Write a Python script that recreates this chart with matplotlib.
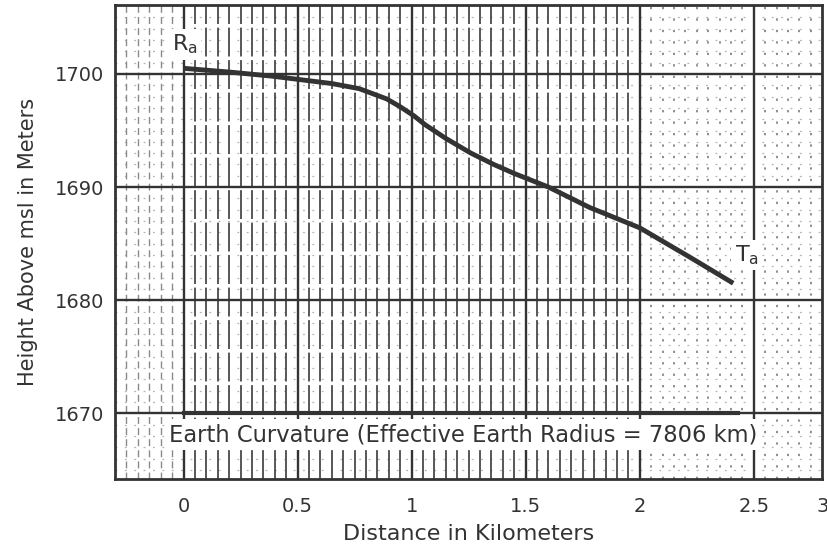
import matplotlib
matplotlib.use('Agg')
import matplotlib.pyplot as plt
import numpy as np

plt.rcParams['font.family'] = 'DejaVu Sans'
plt.rcParams['font.size'] = 14

# terrain profile between the two antennas
dist_km = [0.0, 0.21, 0.39, 0.51, 0.65, 0.77, 0.89, 0.95, 1.01, 1.06, 1.15,
           1.26, 1.36, 1.45, 1.60, 1.78, 2.00, 2.22, 2.41]
height_m = [1700.5, 1700.15, 1699.8, 1699.5, 1699.15, 1698.7, 1697.8, 1697.1,
            1696.3, 1695.5, 1694.3, 1693.0, 1692.0, 1691.2, 1690.0, 1688.2,
            1686.4, 1683.8, 1681.5]

# earth curvature reference line
curv_x = [0.0, 2.43]
curv_y = [1670, 1670]
curv_label = 'Earth Curvature (Effective Earth Radius = 7806 km)'

xticks = [0, 0.5, 1, 1.5, 2, 2.5, 2.8]
xtick_labels = ['0', '0.5', '1', '1.5', '2', '2.5', '3']
yticks = [1670, 1680, 1690, 1700]

ink = '#333333'

fig = plt.figure(figsize=(8.28, 5.48), dpi=100)
ax = fig.add_axes([0.139, 0.126, 0.854, 0.865])
ax.set_xlim(-0.3, 2.8)
ax.set_ylim(1664.2, 1706.1)

# fine grid: 0.05 km verticals, 1 m horizontals
for h in np.arange(1665, 1706, 1):
    if h % 10:
        ax.axhline(h, color='#b4b4b4', lw=0.9, ls=(0, (1.5, 6)), zorder=1)
for x in np.arange(-0.25, 2.8, 0.05):
    x = round(x, 2)
    if abs(x / 0.5 - round(x / 0.5)) < 1e-6:
        continue
    if 0 < x < 2.0:
        ax.axvline(x, color='#4a4a4a', lw=1.3, ls=(0, (16, 2)), zorder=1)
    elif x < 0:
        ax.axvline(x, color='#8a8a8a', lw=1.0, ls=(0, (5, 3)), zorder=1)
    else:
        ax.axvline(x, color='#707070', lw=1.1, ls=(0, (1.5, 6)), zorder=1)

# major grid
for x in [0, 0.5, 1, 1.5, 2, 2.5]:
    ax.axvline(x, color=ink, lw=1.7, zorder=2)
for h in yticks:
    ax.axhline(h, color=ink, lw=1.7, zorder=2)

ax.plot(dist_km, height_m, color=ink, lw=3.5, solid_capstyle='butt',
        solid_joinstyle='round', zorder=4)
ax.plot(curv_x, curv_y, color=ink, lw=3, zorder=4)

ax.text(1.226, 1668.1, curv_label, ha='center', va='center', fontsize=16.3,
        color=ink, zorder=5,
        bbox=dict(facecolor='white', edgecolor='none', pad=3))
ax.text(0.005, 1702.6, r'R$_\mathregular{a}$', ha='center', va='center',
        fontsize=16, color=ink, zorder=5,
        bbox=dict(facecolor='white', edgecolor='none', pad=2.5))
ax.text(2.47, 1684.0, r'T$_\mathregular{a}$', ha='center', va='center',
        fontsize=16, color=ink, zorder=5,
        bbox=dict(facecolor='white', edgecolor='none', pad=2.5))

ax.set_xticks(xticks)
ax.set_xticklabels(xtick_labels)
ax.set_yticks(yticks)
ax.tick_params(length=0, labelsize=14, colors=ink)
ax.tick_params(axis='x', pad=13)
ax.tick_params(axis='y', pad=8)

ax.set_xlabel('Distance in Kilometers', fontsize=16, color=ink, labelpad=6)
ax.set_ylabel('Height Above msl in Meters', fontsize=15, color=ink, labelpad=12)

for s in ax.spines.values():
    s.set_linewidth(2)
    s.set_color(ink)

fig.savefig('out.png', dpi=100)
